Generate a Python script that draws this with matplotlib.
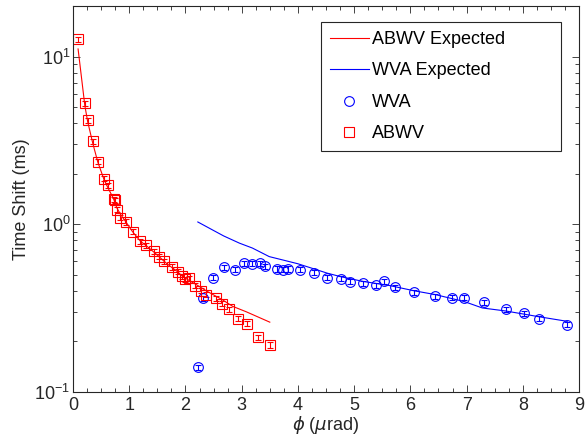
import numpy as np
import matplotlib
matplotlib.use('Agg')
from matplotlib import pyplot as plt
from matplotlib.lines import Line2D

plt.rcParams['font.family'] = ['Liberation Sans', 'DejaVu Sans']
plt.rcParams['mathtext.fontset'] = 'dejavusans'

# ABWV measured points
abwv_x = [0.08, 0.21, 0.26, 0.35, 0.44, 0.55, 0.62, 0.72, 0.74, 0.78, 0.84, 0.95,
          1.06, 1.20, 1.29, 1.44, 1.53, 1.62, 1.76, 1.86, 1.94, 2.00, 2.07, 2.17,
          2.27, 2.37, 2.55, 2.65, 2.77, 2.94, 3.09, 3.29, 3.50]
abwv_y = [12.7, 5.28, 4.18, 3.13, 2.36, 1.87, 1.71, 1.41, 1.39, 1.22, 1.09, 1.03,
          0.90, 0.79, 0.75, 0.69, 0.64, 0.60, 0.555, 0.52, 0.49, 0.47, 0.475, 0.43,
          0.40, 0.38, 0.36, 0.335, 0.31, 0.272, 0.255, 0.212, 0.19]

# ABWV expected curve
abwv_exp_x = [0.09, 0.21, 0.26, 0.35, 0.44, 0.55, 0.62, 0.72, 0.78, 0.84, 0.95,
              1.06, 1.20, 1.29, 1.44, 1.53, 1.62, 1.76, 1.86, 1.94, 2.07, 2.17,
              2.27, 2.37, 2.55, 2.65, 2.84, 3.08, 3.50]
abwv_exp_y = [11.1, 5.1, 4.1, 3.05, 2.35, 1.85, 1.65, 1.42, 1.25, 1.15, 1.02,
              0.90, 0.79, 0.75, 0.68, 0.64, 0.60, 0.55, 0.52, 0.49, 0.46, 0.44,
              0.42, 0.40, 0.37, 0.355, 0.323, 0.30, 0.26]

# WVA measured points
wva_x = [2.23, 2.31, 2.49, 2.68, 2.88, 3.05, 3.19, 3.32, 3.42, 3.63, 3.74, 3.83,
         4.03, 4.29, 4.52, 4.77, 4.92, 5.16, 5.39, 5.54, 5.73, 6.07, 6.44, 6.74,
         6.96, 7.31, 7.70, 8.03, 8.29, 8.79]
wva_y = [0.140, 0.36, 0.48, 0.554, 0.534, 0.585, 0.58, 0.585, 0.559, 0.54, 0.534, 0.54,
         0.534, 0.514, 0.478, 0.472, 0.453, 0.444, 0.433, 0.455, 0.421, 0.391, 0.37, 0.363,
         0.363, 0.341, 0.311, 0.293, 0.272, 0.251]

# WVA expected curve
wva_exp_x = [2.22, 2.49, 2.68, 2.96, 3.19, 3.49, 3.74, 4.00, 4.29, 4.52, 4.77,
             5.16, 5.63, 6.07, 6.44, 6.96, 7.28, 7.70, 8.03, 8.29, 8.79]
wva_exp_y = [1.03, 0.92, 0.85, 0.77, 0.72, 0.64, 0.61, 0.58, 0.54, 0.51, 0.485,
             0.455, 0.43, 0.40, 0.38, 0.345, 0.316, 0.303, 0.29, 0.28, 0.263]

ink = '#262626'
fig = plt.figure(figsize=(5.87, 4.36), dpi=100)
ax = fig.add_axes([0.1244, 0.1016, 0.862, 0.8844])

ax.plot(abwv_exp_x, abwv_exp_y, color='red', lw=0.8)
ax.plot(wva_exp_x, wva_exp_y, color='blue', lw=0.8)

err = 0.035
ax.errorbar(wva_x, wva_y, yerr=np.array(wva_y) * err, fmt='o', mfc='none', mec='blue',
            ms=7, mew=0.8, ecolor='blue', elinewidth=0.8, capsize=2.5, capthick=0.8)
ax.errorbar(abwv_x, abwv_y, yerr=np.array(abwv_y) * err, fmt='s', mfc='none', mec='red',
            ms=6.5, mew=0.8, ecolor='red', elinewidth=0.8, capsize=2.5, capthick=0.8)

ax.set_yscale('log')
ax.set_xlim(0, 9)
ax.set_ylim(0.1, 20)
ax.set_xticks(range(10))
ax.set_xticks(np.arange(0, 9.01, 0.25), minor=True)

ax.tick_params(which='both', direction='in', top=True, right=True, colors=ink,
               labelsize=13, width=0.6)
ax.tick_params(which='major', length=5)
ax.tick_params(which='minor', length=3)
ax.tick_params(axis='y', which='both', pad=2)
for s in ax.spines.values():
    s.set_color(ink)
    s.set_linewidth(0.8)

ax.set_xlabel(r'$\phi$ ($\mu$rad)', fontsize=13, color=ink, labelpad=0)
ax.set_ylabel('Time Shift (ms)', fontsize=13, color=ink, labelpad=3)

handles = [Line2D([], [], color='red', lw=0.8),
           Line2D([], [], color='blue', lw=0.8),
           Line2D([], [], color='blue', ls='none', marker='o', mfc='none', mec='blue',
                  ms=7, mew=0.8),
           Line2D([], [], color='red', ls='none', marker='s', mfc='none', mec='red',
                  ms=6.5, mew=0.8)]
labels = ['ABWV Expected', 'WVA Expected', 'WVA', 'ABWV']
leg = ax.legend(handles, labels, loc='upper left', bbox_to_anchor=(0.4895, 0.622, 0.4743, 0.337),
                mode='expand', fontsize=13, fancybox=False, edgecolor=ink, framealpha=1,
                handlelength=2.15, labelspacing=0.8, borderpad=0.5, handletextpad=0.2,
                borderaxespad=0)
leg.get_frame().set_linewidth(0.8)

fig.savefig('out.png', dpi=100)
